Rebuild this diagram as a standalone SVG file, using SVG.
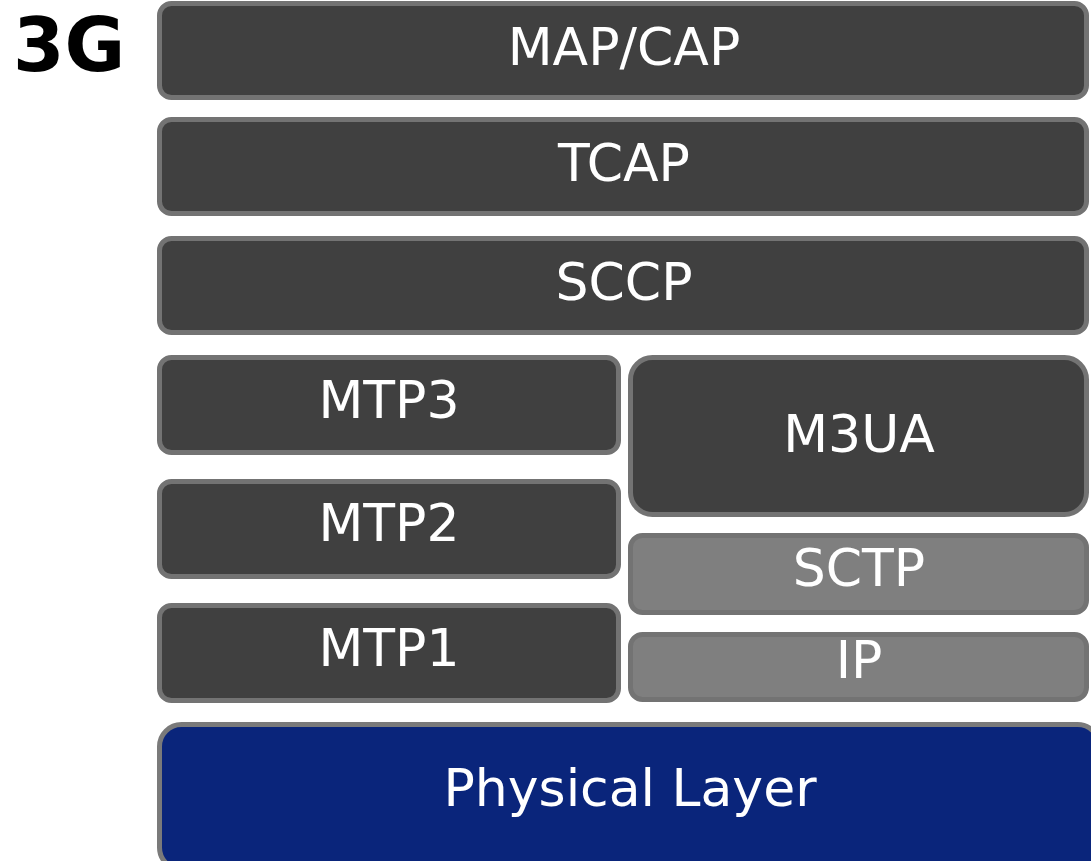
<svg xmlns="http://www.w3.org/2000/svg" width="1091" height="861" viewBox="0 0 1091 861">
  <style>
    .dark { fill: #404040; stroke: #737373; stroke-width: 5; }
    .light { fill: #7f7f7f; stroke: #737373; stroke-width: 5; }
    .phy { fill: #0a257b; stroke: #7a7a7a; stroke-width: 5; }
    .lbl { font-family: "DejaVu Sans", Verdana, sans-serif; font-size: 52px; fill: #ffffff; text-anchor: middle; }
    .title { font-family: "DejaVu Sans", Verdana, sans-serif; font-size: 74px; font-weight: bold; fill: #000000; }
  </style>
  <rect width="1091" height="861" fill="#ffffff"/>
  <text class="title" x="13" y="71">3G</text>

  <g id="map-cap">
    <rect class="dark" x="159.5" y="3.5" width="927" height="94" rx="12"/>
    <text class="lbl" x="624" y="65">MAP/CAP</text>
  </g>
  <g id="tcap">
    <rect class="dark" x="159.5" y="119.5" width="927" height="94" rx="12"/>
    <text class="lbl" x="624" y="181">TCAP</text>
  </g>
  <g id="sccp">
    <rect class="dark" x="159.5" y="238.5" width="927" height="94" rx="12"/>
    <text class="lbl" x="624" y="300">SCCP</text>
  </g>
  <g id="mtp3">
    <rect class="dark" x="159.5" y="357.5" width="459" height="95" rx="12"/>
    <text class="lbl" x="389" y="418">MTP3</text>
  </g>
  <g id="mtp2">
    <rect class="dark" x="159.5" y="481.5" width="459" height="95" rx="12"/>
    <text class="lbl" x="389" y="541">MTP2</text>
  </g>
  <g id="mtp1">
    <rect class="dark" x="159.5" y="605.5" width="459" height="95" rx="12"/>
    <text class="lbl" x="389" y="666">MTP1</text>
  </g>
  <g id="m3ua">
    <rect class="dark" x="630.5" y="357.5" width="456" height="157" rx="22"/>
    <text class="lbl" x="859" y="452">M3UA</text>
  </g>
  <g id="sctp">
    <rect class="light" x="630.5" y="535.5" width="456" height="77" rx="12"/>
    <text class="lbl" x="859" y="586">SCTP</text>
  </g>
  <g id="ip">
    <rect class="light" x="630.5" y="634.5" width="456" height="65" rx="12"/>
    <text class="lbl" x="859" y="678">IP</text>
  </g>
  <g id="physical-layer">
    <rect class="phy" x="159.5" y="724.5" width="940" height="145" rx="22"/>
    <text class="lbl" x="630" y="806">Physical Layer</text>
  </g>
  <g id="connectors"/>
</svg>
